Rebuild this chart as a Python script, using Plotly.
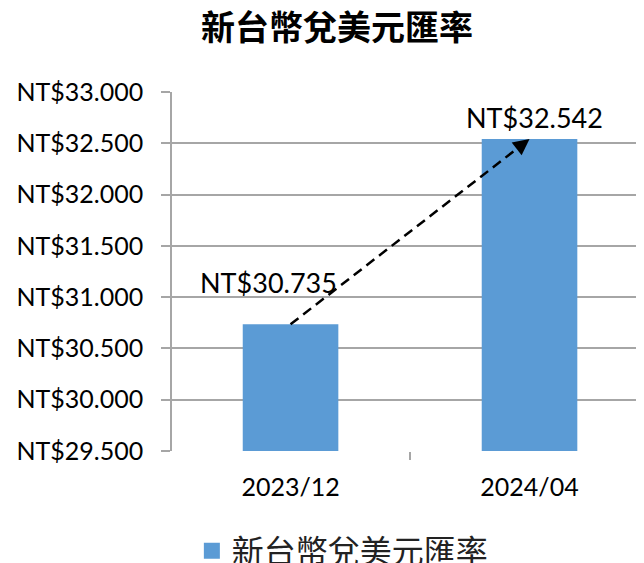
import plotly.graph_objects as go

# Data
categories = ["2023/12", "2024/04"]
rates = [30.735, 32.542]
series_name = "新台幣兌美元匯率"
title_text = "新台幣兌美元匯率"
y_ticks = [29.5, 30.0, 30.5, 31.0, 31.5, 32.0, 32.5, 33.0]
y_tick_labels = ["NT$%.3f" % v for v in y_ticks]

BAR_COLOR = "#5b9bd5"
GRID = "#a6a6a6"
FONT = "Lato, 'Noto Sans CJK TC', sans-serif"
CJK = "'Noto Sans CJK TC', sans-serif"

W, H = 636, 555  # page body has an 8px margin

fig = go.Figure()
fig.add_trace(go.Bar(
    x=categories, y=rates, width=0.4, marker_color=BAR_COLOR,
    marker_line_width=0, showlegend=False, name=series_name,
))
# legend entry
fig.add_trace(go.Scatter(
    x=[None], y=[None], mode="markers", name=series_name,
    marker=dict(symbol="square", size=20, color=BAR_COLOR),
))

# dashed trend arrow between bar tops
fig.add_shape(type="line", xref="x", yref="y",
              x0=0, y0=rates[0], x1=1, y1=rates[1],
              line=dict(color="black", width=2.5, dash="10px,6px"))
fig.add_annotation(x=1, y=rates[1], xref="x", yref="y", text="",
                   showarrow=True, arrowhead=2, arrowsize=1.3, arrowwidth=2.5,
                   arrowcolor="black", axref="pixel", ayref="pixel",
                   ax=-0.792 * 14, ay=0.611 * 14)

# data labels
label_offsets = [(-22, 42), (5, 21)]
for i, (c, v) in enumerate(zip(categories, rates)):
    fig.add_annotation(x=i, y=v, xref="x", yref="y", text="NT$%.3f" % v,
                       showarrow=False, xshift=label_offsets[i][0],
                       yshift=label_offsets[i][1],
                       font=dict(size=27, color="black", family=FONT))

fig.update_layout(
    width=W, height=H,
    margin=dict(l=164, r=0, t=84, b=112),
    paper_bgcolor="white", plot_bgcolor="white",
    font=dict(family=FONT, color="black", size=25),
    title=dict(text="<b>" + title_text + "</b>", x=329 / W, xref="container",
               y=1 - 20 / H, yref="container", xanchor="center", yanchor="middle",
               font=dict(family=CJK, size=34, color="black")),
    legend=dict(orientation="h", x=0.362, xanchor="center", y=1 - 543 / H,
                yref="container", yanchor="middle",
                font=dict(size=32, family=CJK, color="#222")),
    bargap=0.6,
)
fig.update_xaxes(
    type="category", range=[-0.496, 1.479],
    showgrid=False, showline=False, zeroline=False,
    ticks="outside", tickson="boundaries", ticklen=8, tickwidth=1.5, tickcolor=GRID,
    tickfont=dict(size=25, color="black", family=FONT), ticklabelstandoff=19,
)
fig.update_yaxes(
    range=[29.5, 33.0], tickvals=y_ticks, ticktext=y_tick_labels,
    showgrid=True, gridcolor=GRID, gridwidth=1.5,
    showline=True, linecolor=GRID, linewidth=1.5, zeroline=False,
    ticks="outside", ticklen=9, tickwidth=1.5, tickcolor=GRID,
    tickfont=dict(size=25, color="black", family=FONT), ticklabelstandoff=13,
)

fig.write_html("out.html")
